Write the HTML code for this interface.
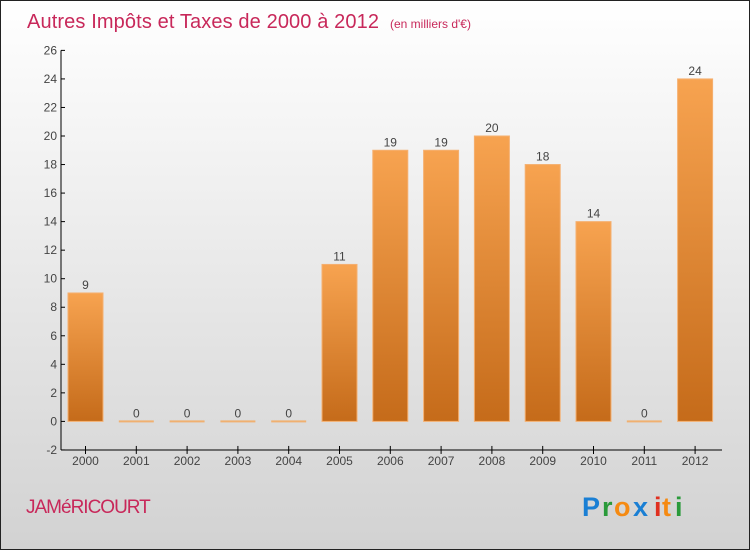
<!DOCTYPE html>
<html><head><meta charset="utf-8"><style>
body{margin:0;}
#c{width:750px;height:550px;position:relative;overflow:hidden;}
svg text{font-family:"Liberation Sans",sans-serif;}
</style></head><body>
<div id="c">
<svg id="s" width="750" height="550" xmlns="http://www.w3.org/2000/svg">
<defs>
<linearGradient id="bg" x1="0" y1="0" x2="0" y2="1"><stop offset="0" stop-color="#ffffff"/><stop offset="1" stop-color="#d2d2d2"/></linearGradient>
<linearGradient id="bar" x1="0" y1="0" x2="0" y2="1"><stop offset="0" stop-color="#f7a350"/><stop offset="1" stop-color="#c56b1a"/></linearGradient>
</defs>
<rect x="0.5" y="0.5" width="749" height="549" fill="url(#bg)" stroke="#222"/>
<text x="27" y="28" font-size="20" fill="#c8285a" textLength="352">Autres Impôts et Taxes de 2000 à 2012</text>
<text x="390" y="28" font-size="12" fill="#c8285a">(en milliers d'€)</text>
<text x="26" y="513" font-size="19" fill="#c8285a" letter-spacing="-1">JAMéRICOURT</text>
<g font-size="27" font-weight="bold">
<text x="582" y="516" fill="#1a7fd4">P</text><text x="602" y="516" fill="#2a9a3a">r</text><text x="614" y="516" fill="#f58a12">o</text><text x="633" y="516" fill="#1a7fd4">x</text><text x="654" y="516" fill="#e03020">i</text><text x="662" y="516" fill="#f58a12">t</text><text x="675" y="516" fill="#2a9a3a">i</text>
</g>
<g id="plot"></g>
</svg>
</div>
<script>
const categories=["2000","2001","2002","2003","2004","2005","2006","2007","2008","2009","2010","2011","2012"];
const values=[9,0,0,0,0,11,19,19,20,18,14,0,24];
const yTicks=[-2,0,2,4,6,8,10,12,14,16,18,20,22,24,26];
const NS="http://www.w3.org/2000/svg";
const g=document.getElementById('plot');
function y(v){return 421.4-(v)*14.27;}
function x(i){return 85.5+i*50.8;}
function mk(t,a){const e=document.createElementNS(NS,t);for(const k in a)e.setAttribute(k,a[k]);g.appendChild(e);return e;}
let e=mk('line',{x1:61,y1:y(26),x2:61,y2:y(-2),stroke:'#000'});


e=mk('line',{x1:61,y1:y(-2),x2:722,y2:y(-2),stroke:'#000'});


yTicks.forEach(v=>{
 const t=mk('line',{x1:61,y1:y(v),x2:65,y2:y(v),stroke:'#000'});
 
 
 const l=mk('text',{x:57,y:y(v)+4,'font-size':12,fill:'#444','text-anchor':'end'});
 l.textContent=v;
 
 
});
categories.forEach((c,i)=>{
 const cx=x(i),v=values[i];
 const t=mk('line',{x1:cx,y1:y(-2)-4,x2:cx,y2:y(-2)+4,stroke:'#000'});
 
 
 const l=mk('text',{x:cx,y:465,'font-size':12,fill:'#444','text-anchor':'middle'});
 l.textContent=c;
 
 
 let b;
 if(v===0){b=mk('rect',{x:cx-17.5,y:y(0)-1,width:35,height:2,fill:'#f0b070'});}
 else{b=mk('rect',{x:cx-17.5,y:y(v),width:35,height:y(0)-y(v),fill:'url(#bar)',stroke:'#f5b070','stroke-width':1});}
 
 
 const vl=mk('text',{x:cx,y:y(v)-4,'font-size':12,fill:'#444','text-anchor':'middle'});
 vl.textContent=v;
 
 
});
</script>
</body></html>
